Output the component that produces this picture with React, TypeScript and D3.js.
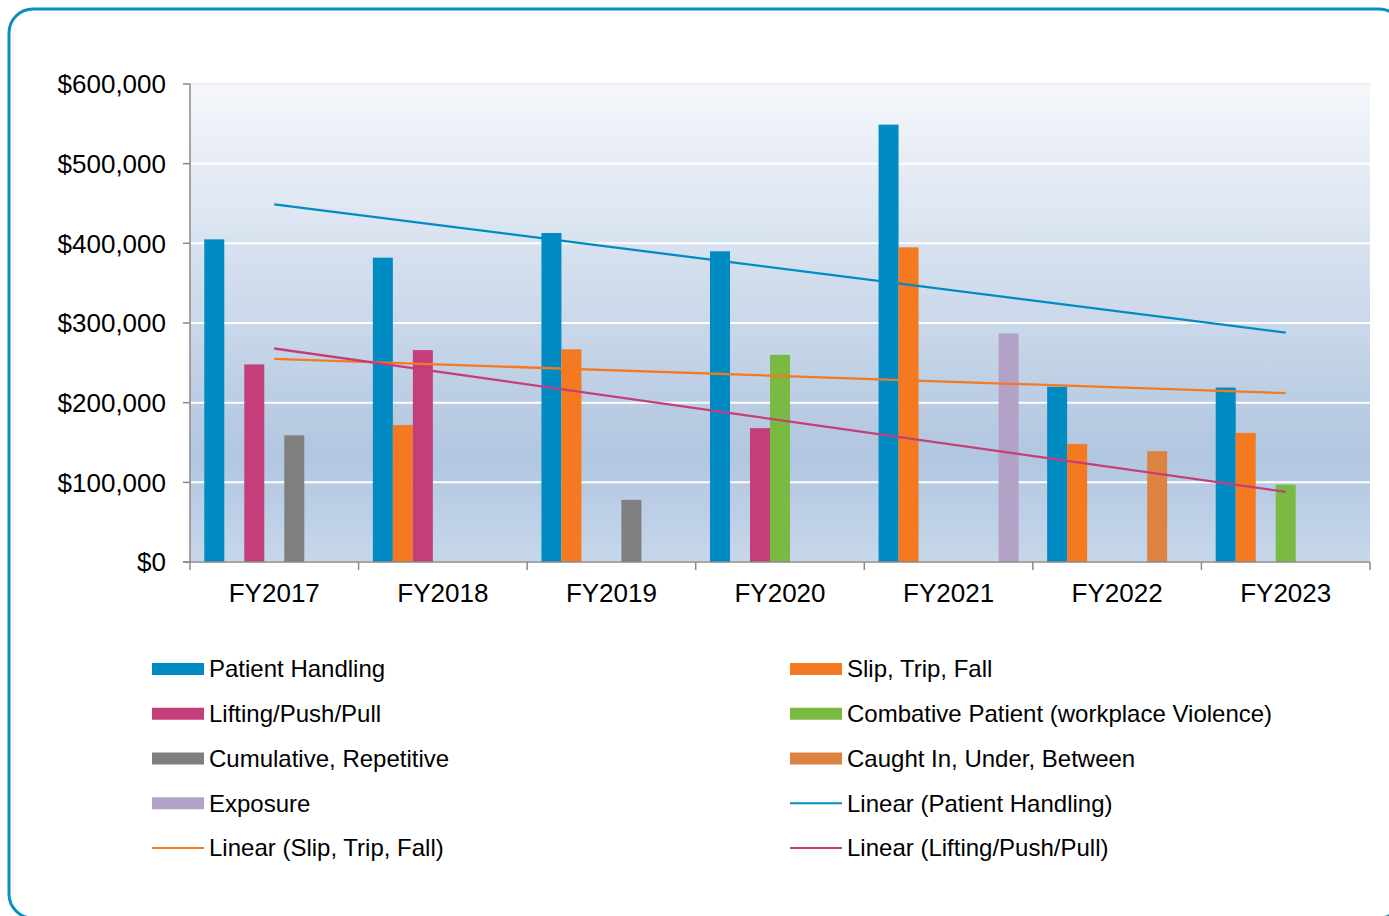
import React from "react";
import * as d3 from "d3";

const categories = ["FY2017", "FY2018", "FY2019", "FY2020", "FY2021", "FY2022", "FY2023"];
const seriesNames = [
  "Patient Handling",
  "Slip, Trip, Fall",
  "Lifting/Push/Pull",
  "Combative Patient (workplace Violence)",
  "Cumulative, Repetitive",
  "Caught In, Under, Between",
  "Exposure",
];
const seriesColors = ["#008bc3", "#f47920", "#c43f7a", "#7aba42", "#7f7f7f", "#dc8342", "#b2a2c8"];

const patientHandling = [405000, 382000, 413000, 390000, 549000, 220000, 219000];
const slipTripFall = [0, 172000, 267000, 0, 395000, 148000, 162000];
const liftingPushPull = [248000, 266000, 0, 168000, 0, 0, 0];
const combative = [0, 0, 0, 260000, 0, 0, 97000];
const cumulative = [159000, 0, 78000, 0, 0, 0, 0];
const caughtIn = [0, 0, 0, 0, 0, 139000, 0];
const exposure = [0, 0, 0, 0, 287000, 0, 0];
const seriesValues = [patientHandling, slipTripFall, liftingPushPull, combative, cumulative, caughtIn, exposure];

const trendNames = ["Linear (Patient Handling)", "Linear (Slip, Trip, Fall)", "Linear (Lifting/Push/Pull)"];
const trendColors = ["#008bc3", "#f47920", "#c43f7a"];
const trendStart = [449000, 255000, 268000];
const trendEnd = [288000, 212000, 88000];

const yTicks = [0, 100000, 200000, 300000, 400000, 500000, 600000];

const legendItems = [
  { name: "Patient Handling", color: seriesColors[0], type: "bar" },
  { name: "Slip, Trip, Fall", color: seriesColors[1], type: "bar" },
  { name: "Lifting/Push/Pull", color: seriesColors[2], type: "bar" },
  { name: "Combative Patient (workplace Violence)", color: seriesColors[3], type: "bar" },
  { name: "Cumulative, Repetitive", color: seriesColors[4], type: "bar" },
  { name: "Caught In, Under, Between", color: seriesColors[5], type: "bar" },
  { name: "Exposure", color: seriesColors[6], type: "bar" },
  { name: trendNames[0], color: trendColors[0], type: "line" },
  { name: trendNames[1], color: trendColors[1], type: "line" },
  { name: trendNames[2], color: trendColors[2], type: "line" },
];

export default function App() {
  const W = 1389, H = 916;
  const plotL = 190, plotR = 1370, plotT = 84, plotB = 562;
  const x0 = d3.scaleBand<string>().domain(categories).range([plotL, plotR]).paddingInner(0).paddingOuter(0);
  const bw = x0.bandwidth();
  const x1 = d3.scaleBand<string>().domain(seriesNames).range([0, bw]).paddingInner(0).paddingOuter(0.714);
  const y = d3.scaleLinear().domain([0, 600000]).range([plotB, plotT]);
  const fmt = (v: number) => "$" + d3.format(",")(v);
  const font = "Arial, 'Liberation Sans', sans-serif";

  const trendLine = d3.line<[number, number]>().x((d) => d[0]).y((d) => d[1]);

  return (
    <svg width={W} height={H} style={{ position: "absolute", left: 0, top: 0 }} fontFamily={font}>
      <defs>
        <linearGradient id="bg" x1="0" y1="0" x2="0" y2="1">
          <stop offset="0" stopColor="#f5f7fb" />
          <stop offset="0.78" stopColor="#b1c6e0" />
          <stop offset="1" stopColor="#c7d7eb" />
        </linearGradient>
      </defs>
      <rect x={0} y={0} width={W} height={H} fill="#fff" />
      <rect x={9} y={9} width={1394} height={909} rx={24} ry={24} fill="#fff" stroke="#0b8dc7" strokeWidth={3} />
      <rect x={plotL} y={plotT} width={plotR - plotL} height={plotB - plotT} fill="url(#bg)" />
      {yTicks.map((t) => (
        <line key={"g" + t} x1={plotL} x2={plotR} y1={y(t)} y2={y(t)} stroke={t === 600000 ? "#eeeeee" : "#ffffff"} strokeWidth={2} />
      ))}
      {seriesValues.map((vals, si) =>
        vals.map((v, ci) =>
          v > 0 ? (
            <rect
              key={si + "-" + ci}
              x={(x0(categories[ci]) as number) + (x1(seriesNames[si]) as number)}
              y={y(v)}
              width={x1.bandwidth()}
              height={plotB - y(v)}
              fill={seriesColors[si]}
            />
          ) : null
        )
      )}
      {trendStart.map((s, i) => {
        const xa = (x0(categories[0]) as number) + bw / 2;
        const xb = (x0(categories[categories.length - 1]) as number) + bw / 2;
        return (
          <path
            key={"t" + i}
            d={trendLine([[xa, y(s)], [xb, y(trendEnd[i])]]) as string}
            stroke={trendColors[i]}
            strokeWidth={2.3}
            fill="none"
          />
        );
      })}
      {/* axes */}
      <line x1={plotL} x2={plotL} y1={plotT} y2={plotB} stroke="#898989" strokeWidth={1.5} />
      <line x1={plotL - 7} x2={plotR} y1={plotB} y2={plotB} stroke="#898989" strokeWidth={1.5} />
      {yTicks.map((t) => (
        <g key={"yt" + t}>
          <line x1={plotL - 7} x2={plotL} y1={y(t)} y2={y(t)} stroke="#898989" strokeWidth={1.5} />
          <text x={166} y={y(t)} dy="0.36em" textAnchor="end" fontSize={26} fill="#000">
            {fmt(t)}
          </text>
        </g>
      ))}
      {[...categories.map((c) => x0(c) as number), plotR].map((xx, i) => (
        <line key={"xt" + i} x1={xx} x2={xx} y1={plotB} y2={plotB + 8} stroke="#898989" strokeWidth={1.5} />
      ))}
      {categories.map((c) => (
        <text key={c} x={(x0(c) as number) + bw / 2} y={593} dy="0.36em" textAnchor="middle" fontSize={26} fill="#000">
          {c}
        </text>
      ))}
      {/* legend */}
      {legendItems.map((it, i) => {
        const isLeft = i % 2 === 0;
        const row = Math.floor(i / 2);
        const lx = isLeft ? 152 : 790;
        const ly = 669 + row * 44.75;
        return (
          <g key={"lg" + i}>
            {it.type === "bar" ? (
              <rect x={lx} y={ly - 6} width={52} height={12} fill={it.color} />
            ) : (
              <line x1={lx} x2={lx + 52} y1={ly} y2={ly} stroke={it.color} strokeWidth={2} />
            )}
            <text x={lx + 57} y={ly} dy="0.35em" fontSize={24} fill="#000">
              {it.name}
            </text>
          </g>
        );
      })}
    </svg>
  );
}
